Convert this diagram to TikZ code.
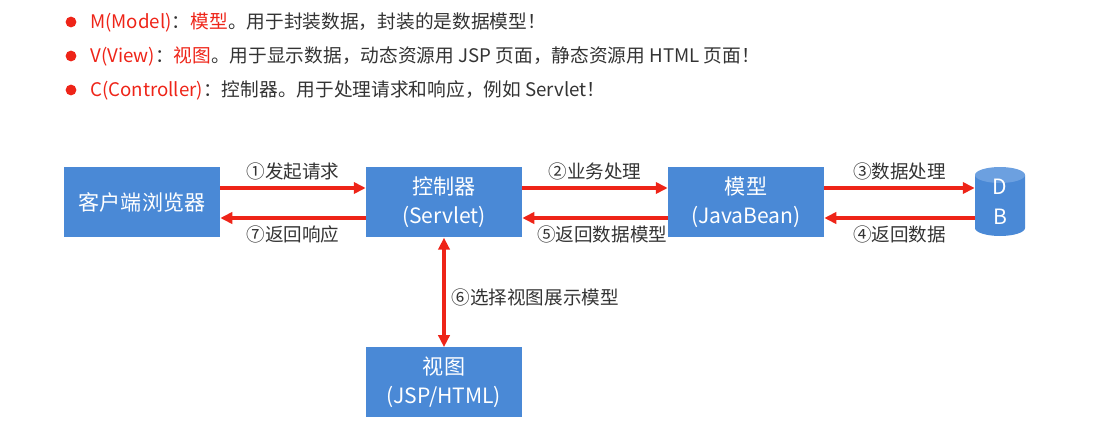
\documentclass[tikz,border=0pt]{standalone}
\usepackage{fontspec}
\setmainfont{Noto Sans CJK SC}
\usetikzlibrary{calc,arrows.meta}

\definecolor{boxblue}{RGB}{74,137,214}
\definecolor{dbtop}{RGB}{108,160,224}
\definecolor{mvcred}{RGB}{238,36,24}
\definecolor{textgray}{RGB}{51,51,51}

\begin{document}
\begin{tikzpicture}[
  x=0.025cm,y=-0.025cm,
  >={Triangle[length=8.5pt,width=8pt]},
  block/.style={rectangle, fill=boxblue, text=white, minimum width=3.9cm, minimum height=1.77cm,
    inner sep=0pt, align=center, font=\fontsize{15}{21}\selectfont},
  flow/.style={->, line width=2.2pt, draw=mvcred, color=mvcred},
  tag/.style={font=\fontsize{13.2}{16}\selectfont, text=textgray},
  item/.style={anchor=west, inner sep=0pt, font=\fontsize{13.3}{16}\selectfont, text=textgray},
  dot/.style={circle, fill=mvcred, inner sep=0pt, minimum size=0.27cm}
]
\useasboundingbox (0,0) rectangle (1117,427);

% MVC legend
\node[dot] (dotM) at (71,22) {};
\node[dot] (dotV) at (71,56) {};
\node[dot] (dotC) at (71,90) {};
\node[item] (lineM) at (90,22) {\textcolor{mvcred}{M(Model)}：\textcolor{mvcred}{模型}。用于封装数据，封装的是数据模型！};
\node[item] (lineV) at (90,56) {\textcolor{mvcred}{V(View)}：\textcolor{mvcred}{视图}。用于显示数据，动态资源用 JSP 页面，静态资源用 HTML 页面！};
\node[item] (lineC) at (90,90) {\textcolor{mvcred}{C(Controller)}：控制器。用于处理请求和响应，例如 Servlet！};

% Boxes
\node[block] (client) at (142,202) {客户端浏览器};
\node[block] (ctrl) at (444,202) {控制器\\(Servlet)};
\node[block] (model) at (746,202) {模型\\(JavaBean)};
\node[block, minimum height=1.73cm] (view) at (444,382) {视图\\(JSP/HTML)};

% Database cylinder
\fill[boxblue] (975,175) -- (975,228) arc[start angle=180,end angle=0,x radius=25,y radius=8] -- (1025,175) -- cycle;
\fill[dbtop] (1000,175) ellipse[x radius=25,y radius=8];
\node[block, fill=none, minimum width=1.25cm] (db) at (1000,202) {D\\B};

% Requests and responses
\draw[flow] ($(client.east)+(0,-14)$) -- ($(ctrl.west)+(0,-14)$) node[tag, midway, above=1pt] {①发起请求};
\draw[flow] ($(ctrl.east)+(0,-14)$) -- ($(model.west)+(0,-14)$) node[tag, midway, above=1pt] {②业务处理};
\draw[flow] ($(model.east)+(0,-14)$) -- ($(db.west)+(0,-14)$) node[tag, midway, above=1pt] {③数据处理};
\draw[flow] ($(db.west)+(0,16)$) -- ($(model.east)+(0,16)$) node[tag, midway, below=1pt] {④返回数据};
\draw[flow] ($(model.west)+(0,16)$) -- ($(ctrl.east)+(0,16)$) node[tag, pos=0.45, below=1pt] {⑤返回数据模型};
\draw[flow] ($(ctrl.west)+(0,16)$) -- ($(client.east)+(0,16)$) node[tag, midway, below=1pt] {⑦返回响应};
\draw[flow, <->] (ctrl.south) -- (view.north) node[tag, pos=0.55, right=1pt] {⑥选择视图展示模型};

\end{tikzpicture}
\end{document}
